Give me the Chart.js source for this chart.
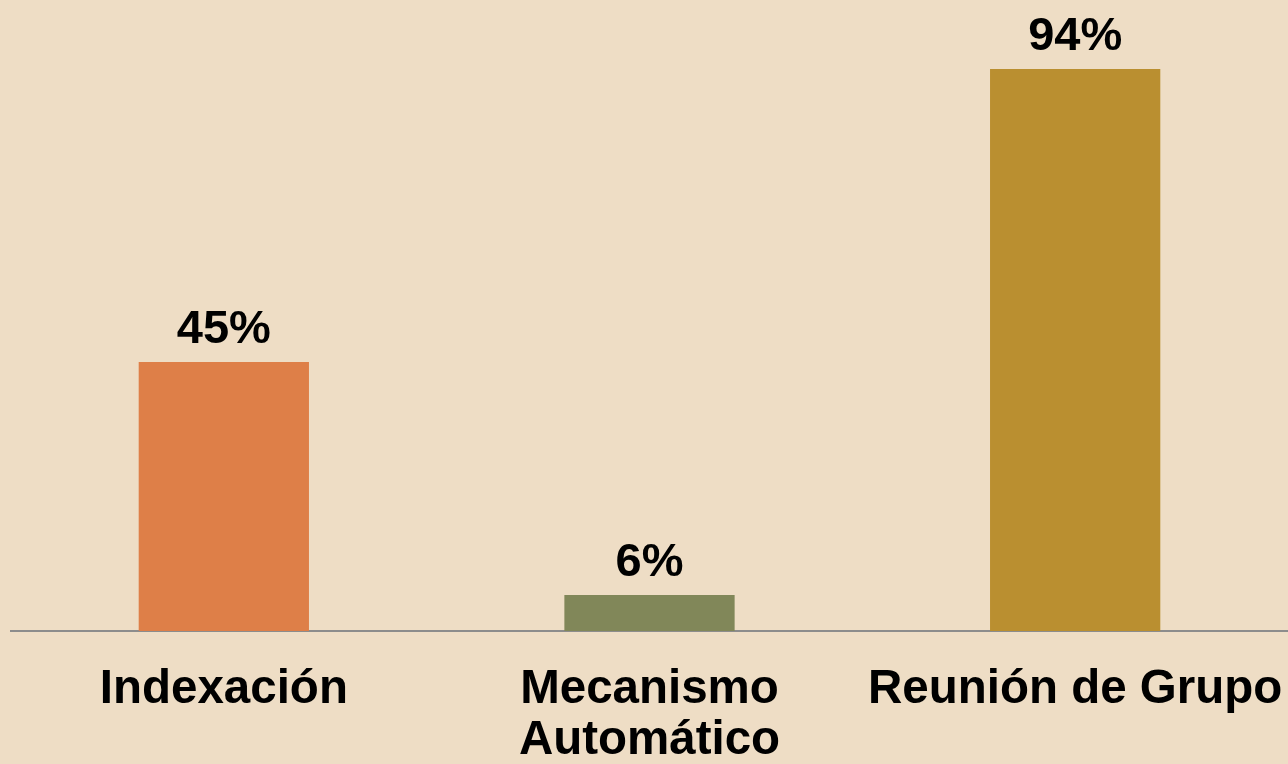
<!DOCTYPE html>
<html>
<head>
<meta charset="utf-8">
<script src="https://cdn.jsdelivr.net/npm/chart.js@4"></script>
<style>
  html, body { margin: 0; padding: 0; background: #eeddc5; }
  #wrap { width: 1288px; height: 764px; position: relative; }
</style>
</head>
<body>
<div id="wrap"><canvas id="c"></canvas></div>
<script>
const categories = ["Indexación", ["Mecanismo", "Automático"], "Reunión de Grupo"];
const values = [45, 6, 94];
const barColors = ["#de7f48", "#818759", "#ba8f30"];

const FONT = '"Liberation Sans", Arial, sans-serif';

// draws the "xx%" text above each bar, using the bar element positions
const valueLabels = {
    id: "valueLabels",
    afterDatasetsDraw(chart) {
        const ctx = chart.ctx;
        const meta = chart.getDatasetMeta(0);
        ctx.save();
        ctx.font = "bold 47px " + FONT;
        ctx.fillStyle = "#000";
        ctx.textAlign = "center";
        ctx.textBaseline = "alphabetic";
        meta.data.forEach((bar, i) => {
            ctx.fillText(values[i] + "%", bar.x, bar.y - 19);
        });
        ctx.restore();
    }
};

new Chart(document.getElementById("c"), {
    type: "bar",
    data: {
        labels: categories,
        datasets: [{
            data: values,
            backgroundColor: barColors,
            borderWidth: 0,
            categoryPercentage: 0.4,
            barPercentage: 1
        }]
    },
    options: {
        responsive: true,
        maintainAspectRatio: false,
        animation: false,
        layout: { padding: { top: 33, left: 11, right: 0, bottom: 0 } },
        plugins: {
            legend: { display: false },
            tooltip: { enabled: false }
        },
        scales: {
            x: {
                grid: { display: false, drawTicks: false },
                border: { display: true, color: "#8c8c8c", width: 2 },
                ticks: {
                    color: "#000",
                    font: { family: FONT, size: 47.5, weight: "bold", lineHeight: 1.075 },
                    padding: 33,
                    maxRotation: 0,
                    autoSkip: false
                },
                afterFit(scale) {
                    scale.height = 133;
                    scale.paddingLeft = 0;
                    scale.paddingRight = 0;
                }
            },
            y: {
                display: false,
                min: 0,
                max: 100
            }
        }
    },
    plugins: [valueLabels]
});
</script>
</body>
</html>
